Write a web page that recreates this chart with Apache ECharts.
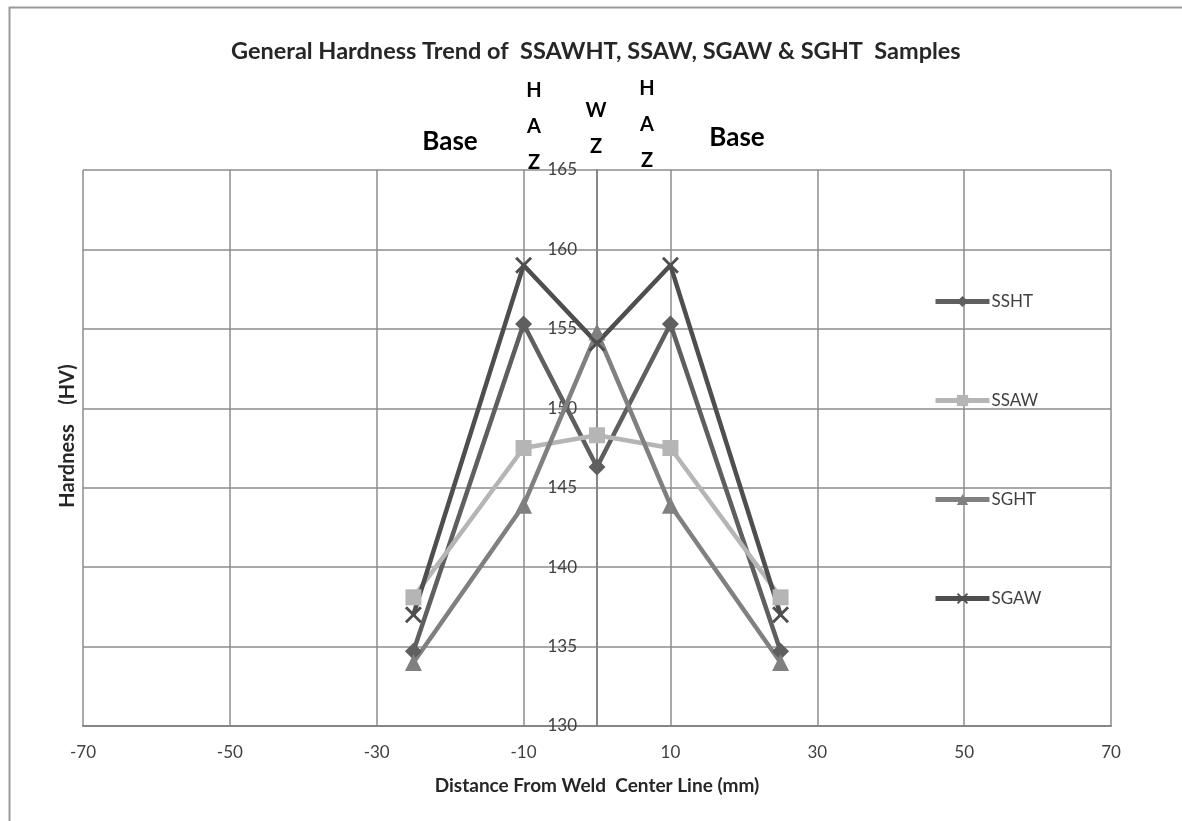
<!DOCTYPE html>
<html>
<head>
<meta charset="utf-8">
<script src="https://cdn.jsdelivr.net/npm/echarts@6/dist/echarts.min.js"></script>
<style>
html,body{margin:0;padding:0;background:#fff;}
#chart{width:1182px;height:821px;}
</style>
</head>
<body>
<div id="chart"></div>
<script>
// Data
const distances = [-25, -10, 0, 10, 25];
const seriesNames = ['SSHT', 'SSAW', 'SGHT', 'SGAW'];
const ssht = [134.7, 155.3, 146.3, 155.3, 134.7];
const ssaw = [138.1, 147.5, 148.3, 147.5, 138.1];
const sght = [134.0, 143.9, 154.8, 143.9, 134.0];
const sgaw = [137.0, 159.0, 154.1, 159.0, 137.0];
const xTicks = [-70, -50, -30, -10, 10, 30, 50, 70];
const yTicks = [130, 135, 140, 145, 150, 155, 160, 165];

const titleText = 'General Hardness Trend of  SSAWHT, SSAW, SGAW & SGHT  Samples';
const xName = 'Distance From Weld  Center Line (mm)';
const yName = 'Hardness    (HV)';

const FONT = 'Lato, "Open Sans", sans-serif';
const xMarker = 'path://M0,1.2 L1.2,0 L5,3.8 L8.8,0 L10,1.2 L6.2,5 L10,8.8 L8.8,10 L5,6.2 L1.2,10 L0,8.8 L3.8,5 Z';

function pairs(vals){ return distances.map((d,i)=>[d, vals[i]]); }

const GRID = {left: 83, right: 71, top: 170, bottom: 95};
const plotW = 1182 - GRID.left - GRID.right;
// y axis sits at x = 0 of the x axis
const yAxisOffset = -plotW * (0 - xTicks[0]) / (xTicks[xTicks.length-1] - xTicks[0]);

const chart = echarts.init(document.getElementById('chart'));
const series = [
  {name: seriesNames[0], data: pairs(ssht), color: '#5f5f5f', symbol: 'diamond', symbolSize: 17},
  {name: seriesNames[1], data: pairs(ssaw), color: '#b5b5b5', symbol: 'rect', symbolSize: 16},
  {name: seriesNames[2], data: pairs(sght), color: '#808080', symbol: 'triangle', symbolSize: 17},
  {name: seriesNames[3], data: pairs(sgaw), color: '#4e4e4e', symbol: xMarker, symbolSize: 17}
].map(s => ({
  type: 'line',
  name: s.name,
  data: s.data,
  symbol: s.symbol,
  symbolSize: s.symbolSize,
  showSymbol: true,
  lineStyle: {color: s.color, width: 4.5},
  itemStyle: {color: s.color},
  emphasis: {disabled: true},
  animation: false
}));

chart.setOption({
  animation: false,
  backgroundColor: '#fff',
  textStyle: {fontFamily: FONT},
  title: {
    text: titleText,
    left: 226,
    top: 34,
    textStyle: {fontFamily: FONT, fontSize: 23.5, fontWeight: 'bold', color: '#262626'}
  },
  legend: {
    orient: 'vertical',
    left: 928,
    top: 288,
    itemWidth: 54,
    itemHeight: 14,
    itemGap: 82,
    data: seriesNames,
    lineStyle: {width: 5},
    textStyle: {fontFamily: FONT, fontSize: 17, color: '#404040', padding: [0,0,0,-3]}
  },
  grid: {left: GRID.left, right: GRID.right, top: GRID.top, bottom: GRID.bottom, containLabel: false},
  xAxis: {
    type: 'value',
    min: xTicks[0],
    max: xTicks[xTicks.length-1],
    interval: 20,
    name: xName,
    nameLocation: 'middle',
    nameGap: 50,
    nameTextStyle: {fontFamily: FONT, fontSize: 19, fontWeight: 'bold', color: '#262626'},
    axisLine: {onZero: false, lineStyle: {color: '#868686', width: 2}},
    axisTick: {show: false},
    axisLabel: {fontFamily: FONT, fontSize: 17, color: '#404040', margin: 18},
    splitLine: {show: true, lineStyle: {color: '#8c8c8c', width: 1.5}}
  },
  yAxis: {
    type: 'value',
    position: 'left',
    offset: yAxisOffset,
    min: yTicks[0],
    max: yTicks[yTicks.length-1],
    interval: 5,
    axisLine: {show: true, onZero: false, lineStyle: {color: '#868686', width: 2}},
    axisTick: {show: false},
    axisLabel: {fontFamily: FONT, fontSize: 17, color: '#404040', margin: 20},
    splitLine: {show: true, lineStyle: {color: '#8c8c8c', width: 1.5}}
  },
  graphic: [
    {type: 'rect', left: 7, top: 5, silent: true, z: -10,
     shape: {width: 1300, height: 1000},
     style: {fill: 'none', stroke: '#999', lineWidth: 2}},
    {type: 'text', x: 68, y: 436, rotation: Math.PI/2, silent: true,
     style: {text: yName, font: 'bold 20px ' + FONT, fill: '#262626', textAlign: 'center', textVerticalAlign: 'middle'}},
    {type: 'text', x: 450, y: 142, silent: true,
     style: {text: 'Base', font: 'bold 26px ' + FONT, fill: '#000', textAlign: 'center', textVerticalAlign: 'middle'}},
    {type: 'text', x: 737, y: 138, silent: true,
     style: {text: 'Base', font: 'bold 26px ' + FONT, fill: '#000', textAlign: 'center', textVerticalAlign: 'middle'}},
    {type: 'text', x: 534, y: 127, silent: true,
     style: {text: 'H\nA\nZ', font: 'bold 20px ' + FONT, lineHeight: 36, fill: '#000', textAlign: 'center', textVerticalAlign: 'middle'}},
    {type: 'text', x: 596, y: 129, silent: true,
     style: {text: 'W\nZ', font: 'bold 20px ' + FONT, lineHeight: 36, fill: '#000', textAlign: 'center', textVerticalAlign: 'middle'}},
    {type: 'text', x: 647, y: 125, silent: true,
     style: {text: 'H\nA\nZ', font: 'bold 20px ' + FONT, lineHeight: 36, fill: '#000', textAlign: 'center', textVerticalAlign: 'middle'}}
  ],
  series: series
});
</script>
</body>
</html>
